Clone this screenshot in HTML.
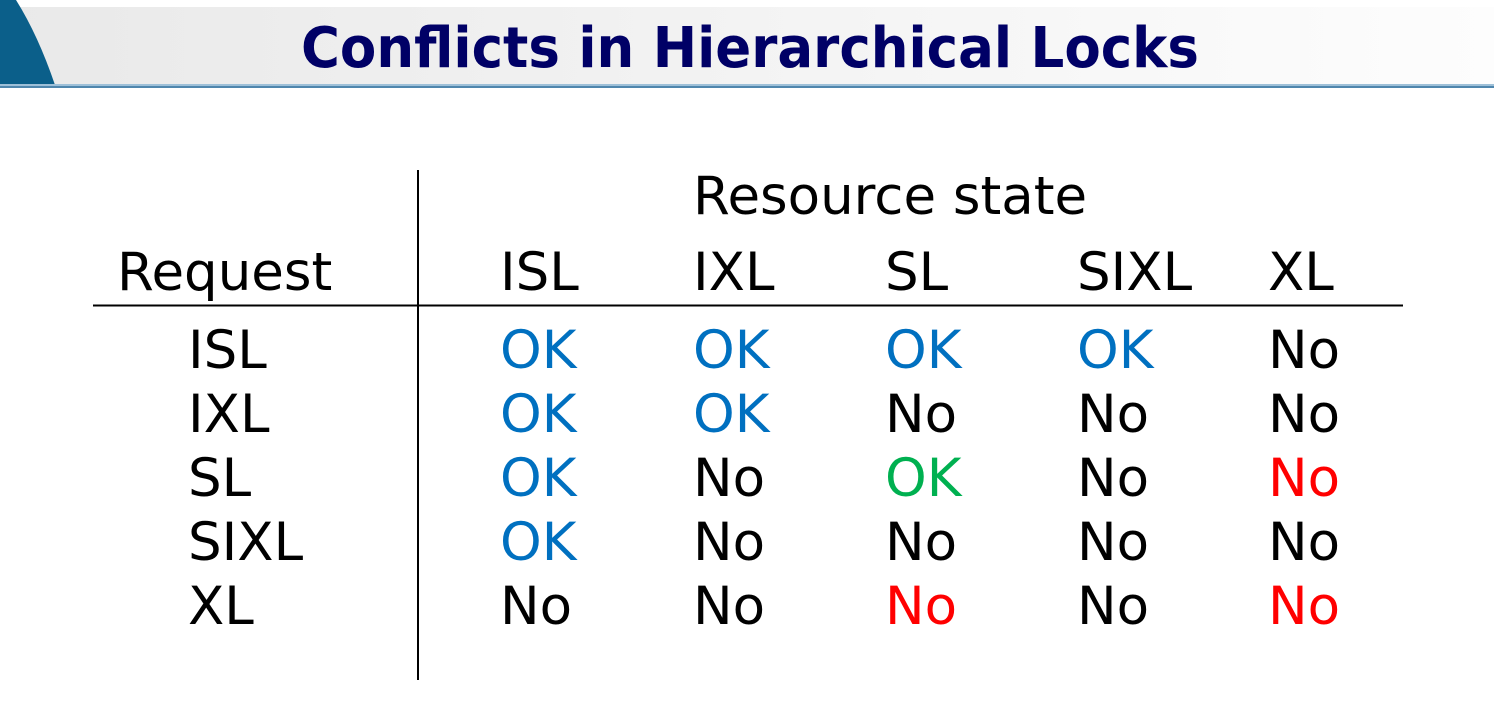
<!DOCTYPE html>
<html><head><meta charset="utf-8"><style>
html,body{margin:0;padding:0;background:#fff;}
svg{display:block;}
</style></head><body>
<svg width="1494" height="706" viewBox="0 0 1494 706" xmlns="http://www.w3.org/2000/svg">
<defs>
<linearGradient id="hg" x1="0" x2="1" y1="0" y2="0">
<stop offset="0" stop-color="#e9e9e9"/><stop offset="1" stop-color="#fdfdfd"/>
</linearGradient>
</defs>
<g>
<rect x="0" y="7" width="1494" height="78" fill="url(#hg)"/>
<path d="M0,0 L16,0 Q38,35 55,85 L0,85 Z" fill="#0b5f8a"/>
<rect x="0" y="84" width="1494" height="2" fill="#9ec0d8"/>
<rect x="0" y="86" width="1494" height="2" fill="#4f86ad"/>
</g>
<text x="750" y="67" text-anchor="middle" font-family="'DejaVu Sans',sans-serif" font-weight="bold" font-size="56" fill="#000066" textLength="898" lengthAdjust="spacingAndGlyphs">Conflicts in Hierarchical Locks</text>
<line x1="418" y1="170" x2="418" y2="680" stroke="#000" stroke-width="2"/>
<line x1="93" y1="305.5" x2="1403" y2="305.5" stroke="#000" stroke-width="2"/>
<g id="tbl" font-family="'DejaVu Sans',sans-serif" font-size="53"></g>
</svg>
<script>
const colLabels=["ISL","IXL","SL","SIXL","XL"];
const rowLabels=["ISL","IXL","SL","SIXL","XL"];
const cells=[
["OK","OK","OK","OK","No"],
["OK","OK","No","No","No"],
["OK","No","OK","No","No"],
["OK","No","No","No","No"],
["No","No","No","No","No"]];
const colors=[
["b","b","b","b","k"],
["b","b","k","k","k"],
["b","k","g","k","r"],
["b","k","k","k","k"],
["k","k","r","k","r"]];
const pal={b:"#0070c0",g:"#00b050",r:"#ff0000",k:"#000000"};
const colX=[500,693,885,1077,1268];
const rowY=[368,432,496,560,624];
const g=document.getElementById('tbl');
const NS="http://www.w3.org/2000/svg";
function t(x,y,s,fill){const e=document.createElementNS(NS,'text');e.setAttribute('x',x);e.setAttribute('y',y);e.setAttribute('fill',fill||'#000');e.textContent=s;g.appendChild(e);return e;}
let e=t(693,214,"Resource state");


e=t(117,290,"Request");


colLabels.forEach((c,i)=>{const el=t(colX[i],290,c);

});
rowLabels.forEach((r,i)=>{const el=t(188,rowY[i],r);


cells[i].forEach((v,j)=>{const c=t(colX[j],rowY[i],v,pal[colors[i][j]]);

});});
</script>
</body></html>
